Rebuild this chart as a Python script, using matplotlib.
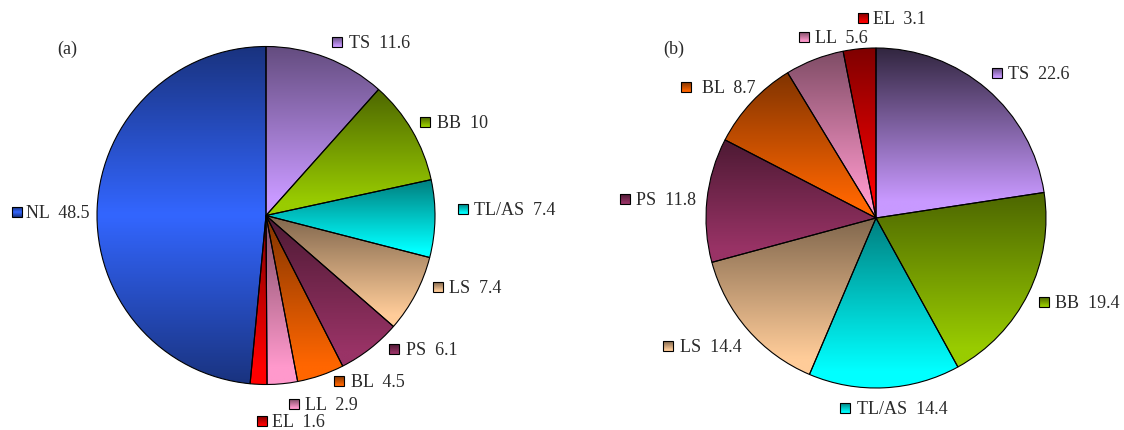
import numpy as np
import matplotlib
matplotlib.use("Agg")
import matplotlib.pyplot as plt
from matplotlib.colors import to_rgb
from matplotlib.patches import Rectangle

# data
names_a = ["TS", "BB", "TL/AS", "LS", "PS", "BL", "LL", "EL", "NL"]
values_a = [11.6, 10, 7.4, 7.4, 6.1, 4.5, 2.9, 1.6, 48.5]
value_text_a = ["11.6", "10", "7.4", "7.4", "6.1", "4.5", "2.9", "1.6", "48.5"]

names_b = ["TS", "BB", "TL/AS", "LS", "PS", "BL", "LL", "EL"]
values_b = [22.6, 19.4, 14.4, 14.4, 11.8, 8.7, 5.6, 3.1]
value_text_b = ["22.6", "19.4", "14.4", "14.4", "11.8", "8.7", "5.6", "3.1"]

base_colors = {
    "TS": "#c899ff", "BB": "#99cc00", "TL/AS": "#00ffff", "LS": "#ffcc99",
    "PS": "#993366", "BL": "#ff6600", "LL": "#ff99cc", "EL": "#ff0000",
    "NL": "#3366ff",
}

# label layout, pixel coords (y down): marker centre and text start
marks_a = [(337, 42), (425, 122), (463, 209), (438, 287), (394, 349),
           (339, 381), (294, 404), (262, 421), (17, 212)]
text_x_a = [349, 437, 474, 449, 406, 351, 305, 272, 26]
marks_b = [(997, 73), (1044, 302), (845, 408), (668, 346), (625, 199),
           (686, 87), (804, 37), (863, 18)]
text_x_b = [1008, 1055, 857, 680, 636, 702, 815, 873]

W, H = 1124, 430
fig = plt.figure(figsize=(W / 100, H / 100), dpi=100)
ax = fig.add_axes([0, 0, 1, 1])
FONT = "Liberation Serif"
TXT = "#2a2a2a"


def gradient(name, top=0.5, n=128):
    # bottom = base colour, top = darkened; NL is dark-bright-dark
    c = np.array(to_rgb(base_colors[name]))
    t = np.linspace(0, 1, n)
    if name == "NL":
        f = 1 - 0.5 * np.abs(2 * t - 1)
    else:
        # full colour is reached a little above the bottom edge
        f = 1 - (1 - top) * np.clip((t - 0.1) / 0.9, 0, 1)
    return (f[:, None] * c[None, :])[:, None, :]


def fill_gradient(patch, name, x0, x1, y0, y1, z, top=0.5):
    im = ax.imshow(gradient(name, top), extent=[x0, x1, y0, y1], origin="lower",
                   aspect="auto", interpolation="bilinear", zorder=z)
    im.set_clip_path(patch)


def draw_pie(names, values, cx, cy, r, dark=None):
    dark = dark or {}
    wedges, _ = ax.pie(values, startangle=90, counterclock=False,
                       center=(cx, cy), radius=r, frame=True,
                       wedgeprops=dict(edgecolor="black", linewidth=0.8))
    for w, name in zip(wedges, names):
        th = np.radians(np.linspace(w.theta1, w.theta2, 200))
        ys = np.concatenate([cy + r * np.sin(th), [cy]])
        xs = np.concatenate([cx + r * np.cos(th), [cx]])
        fill_gradient(w, name, xs.min(), xs.max(), ys.min(), ys.max(), 1.5,
                      dark.get(name, 0.5))
        w.set_facecolor("none")
        w.set_zorder(2)


def draw_labels(names, vtexts, marks, text_x):
    for name, vt, (mx, my), tx in zip(names, vtexts, marks, text_x):
        y = H - my
        sq = Rectangle((mx - 5, y - 5), 10, 10, facecolor="none",
                       edgecolor="black", linewidth=0.8, zorder=3)
        ax.add_patch(sq)
        fill_gradient(sq, name, mx - 5, mx + 5, y - 5, y + 5, 2.5)
        ax.text(tx, y - 5.8, f"{name}  {vt}", fontsize=13, family=FONT,
                color=TXT, ha="left", va="baseline")


draw_pie(names_a, values_a, 266, H - 215.5, 169)
draw_pie(names_b, values_b, 876, H - 218, 170, dark={"TS": 0.25})
draw_labels(names_a, value_text_a, marks_a, text_x_a)
draw_labels(names_b, value_text_b, marks_b, text_x_b)

ax.text(57, H - 54, "(a)", fontsize=13, family=FONT, color=TXT)
ax.text(663, H - 54, "(b)", fontsize=13, family=FONT, color=TXT)

ax.set_xlim(0, W)
ax.set_ylim(0, H)
ax.set_axis_off()
fig.savefig("out.png", dpi=100)
